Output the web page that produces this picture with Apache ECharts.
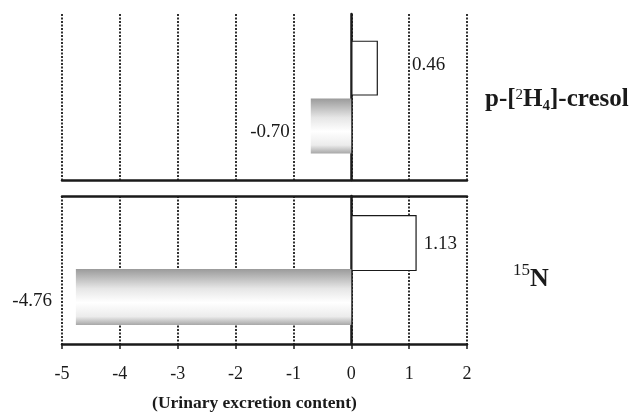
<!DOCTYPE html>
<html>
<head>
<meta charset="utf-8">
<script src="https://cdn.jsdelivr.net/npm/echarts@6/dist/echarts.min.js"></script>
<style>
  html, body { margin: 0; padding: 0; background: #fff; }
  #chart { width: 633px; height: 414px; }
</style>
</head>
<body>
<div id="chart"></div>
<script>
// Tracer groups, one panel each
const tracers = ['p-[2H4]-cresol', '15N'];
// Change in urinary excretion content per tracer
const increases = [0.46, 1.13];
const decreases = [-0.70, -4.76];
// Shared x scale
const xTicks = [-5, -4, -3, -2, -1, 0, 1, 2];

const serif = '"Liberation Serif", "DejaVu Serif", serif';
const ink = '#1a1a1a';

const greyFill = {
  type: 'linear', x: 0, y: 0, x2: 0, y2: 1,
  colorStops: [
    { offset: 0, color: '#9a9a9a' },
    { offset: 0.35, color: '#e6e6e6' },
    { offset: 0.6, color: '#ffffff' },
    { offset: 0.85, color: '#ececec' },
    { offset: 1, color: '#a8a8a8' }
  ]
};

const panels = [
  { top: 14, height: 166, barWidth: 55, barGap: '5%', bottomAxis: false, topBorder: false,
    posDist: 34, posOff: [0, -3], negDist: 21, negOff: [0, 6] },
  { top: 196, height: 148, barWidth: 56, barGap: '-4%', bottomAxis: true, topBorder: true,
    posDist: 7, posOff: [0, 1], negDist: 24, negOff: [0, 4] }
];

const grids = [], xAxes = [], yAxes = [], series = [];
panels.forEach((p, i) => {
  grids.push({ left: 62, right: 166, top: p.top, height: p.height });
  xAxes.push({
    type: 'value', gridIndex: i, min: xTicks[0], max: xTicks[xTicks.length - 1], interval: 1,
    axisLine: { show: true, onZero: false, lineStyle: { color: ink, width: 2.5 } },
    axisTick: { show: p.bottomAxis, length: 5, lineStyle: { color: ink, width: 1.5 } },
    axisLabel: { show: p.bottomAxis, fontFamily: serif, fontSize: 18, color: ink, margin: 21 },
    splitLine: { show: true, lineStyle: { color: ink, type: [2, 1.5], width: 1.8 } },
    name: p.bottomAxis ? '(Urinary excretion content)' : '',
    nameLocation: 'middle', nameGap: 50,
    nameTextStyle: { fontFamily: serif, fontSize: 17.5, fontWeight: 'bold', color: ink, padding: [0, 20, 0, 0] }
  });
  if (p.topBorder) {
    xAxes.push({
      type: 'value', gridIndex: i, position: 'top', min: xTicks[0], max: xTicks[xTicks.length - 1], interval: 1,
      axisLine: { show: true, onZero: false, lineStyle: { color: ink, width: 2.5 } },
      axisTick: { show: false }, axisLabel: { show: false }, splitLine: { show: false }
    });
  }
  yAxes.push({
    type: 'category', gridIndex: i, data: [tracers[i]],
    axisLine: { show: true, onZero: true, lineStyle: { color: ink, width: 2.5 } },
    axisTick: { show: false }, axisLabel: { show: false }, splitLine: { show: false }
  });
  const xIdx = xAxes.length - (p.topBorder ? 2 : 1);
  // increase bar sits above the decrease bar
  series.push({
    type: 'bar', xAxisIndex: xIdx, yAxisIndex: i, z: 3,
    data: [increases[i]], barWidth: p.barWidth, barGap: p.barGap,
    itemStyle: { color: '#ffffff', borderColor: ink, borderWidth: 1.2 },
    label: { show: true, position: 'right', distance: p.posDist, offset: p.posOff,
      fontFamily: serif, fontSize: 19, color: ink,
      formatter: v => v.value.toFixed(2) }
  });
  series.push({
    type: 'bar', xAxisIndex: xIdx, yAxisIndex: i, z: 3,
    data: [decreases[i]], barWidth: p.barWidth, barGap: p.barGap,
    itemStyle: { color: greyFill },
    label: { show: true, position: 'left', distance: p.negDist, offset: p.negOff,
      fontFamily: serif, fontSize: 19, color: ink,
      formatter: v => v.value.toFixed(2) }
  });
});

const chart = echarts.init(document.getElementById('chart'), null, { renderer: 'canvas' });
chart.setOption({
  animation: false,
  backgroundColor: '#fff',
  grid: grids,
  xAxis: xAxes,
  yAxis: yAxes,
  series: series,
  graphic: [
    {
      type: 'text', left: 485, top: 85,
      style: {
        text: '{b|p-[}{sup|2}{b|H}{sub|4}{b|]-cresol}',
        rich: {
          b: { fontFamily: serif, fontSize: 25, fontWeight: 'bold', fill: ink, lineHeight: 30, verticalAlign: 'middle' },
          sup: { fontFamily: serif, fontSize: 15, fill: ink, lineHeight: 30, verticalAlign: 'top', padding: [3, 0, 0, 0] },
          sub: { fontFamily: serif, fontSize: 15, fontWeight: 'bold', fill: ink, lineHeight: 30, verticalAlign: 'bottom', padding: [0, 0, 1, 0] }
        }
      }
    },
    {
      type: 'text', left: 513, top: 262,
      style: {
        text: '{sup|15}{b|N}',
        rich: {
          b: { fontFamily: serif, fontSize: 26, fontWeight: 'bold', fill: ink, lineHeight: 30, verticalAlign: 'bottom' },
          sup: { fontFamily: serif, fontSize: 17, fill: ink, lineHeight: 30, verticalAlign: 'top' }
        }
      }
    }
  ]
});
</script>
</body>
</html>
